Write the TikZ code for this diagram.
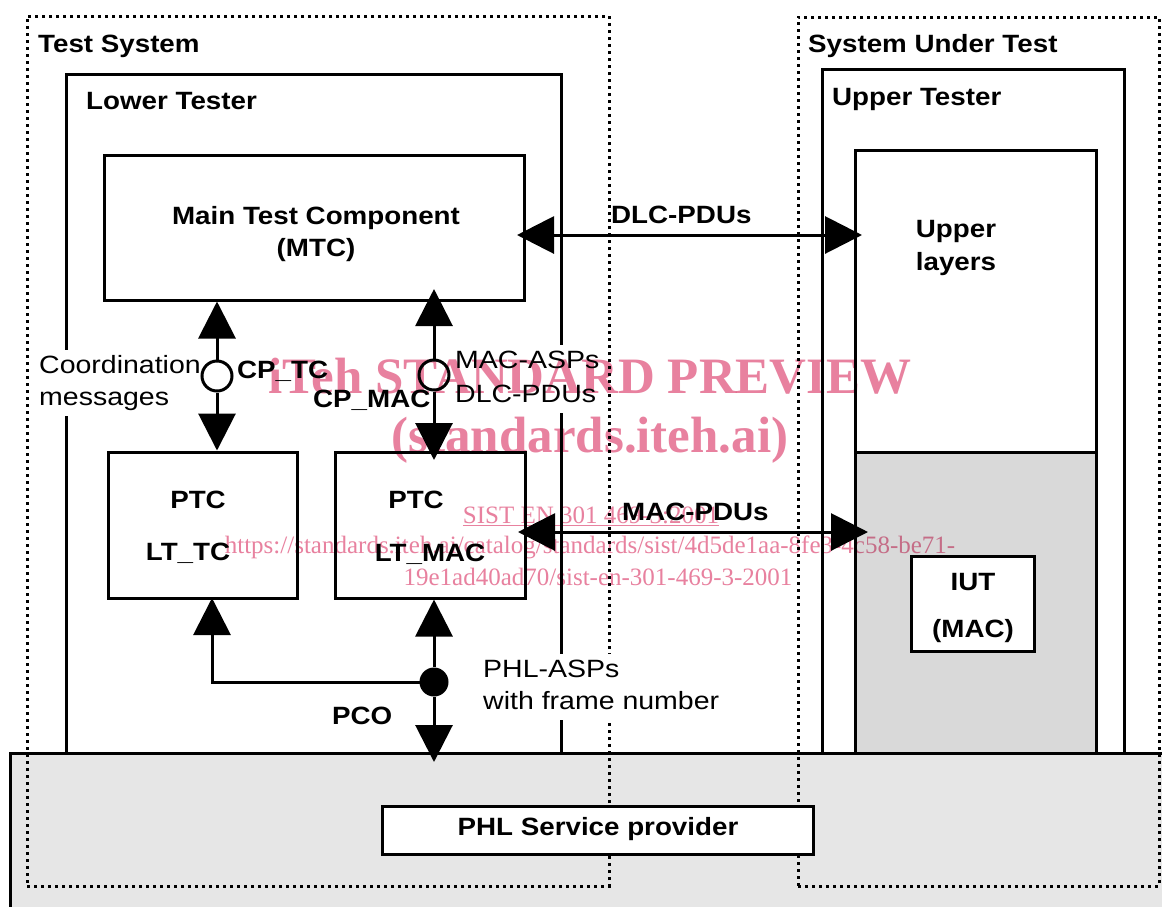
\documentclass[tikz,border=0pt]{standalone}
\usepackage{fontspec}
\usepackage{graphicx}
\setmainfont{Liberation Sans}
\newfontfamily\wmfont{Liberation Serif}
\usetikzlibrary{arrows.meta}
\definecolor{phlgray}{HTML}{E6E6E6}
\definecolor{macgray}{HTML}{D9D9D9}
\definecolor{wmpink}{HTML}{E8819F}
\newcommand{\sx}[1]{\scalebox{1.11}[1]{#1}}
\newcommand{\sxr}[1]{\scalebox{1.14}[1]{#1}}
\begin{document}
\begin{tikzpicture}[x=1pt,y=-1pt,
  box/.style={draw, line width=3pt, inner sep=0pt, rectangle},
  dotbox/.style={draw, line width=3pt, dash pattern=on 3pt off 4pt, inner sep=0pt, rectangle},
  tip/.style={-{Triangle[length=37pt,width=37pt]}},
  arr/.style={line width=3pt, tip},
  darr/.style={line width=3pt, {Triangle[length=37pt,width=37pt]}-{Triangle[length=37pt,width=37pt]}},
  bl/.style={font=\fontsize{25}{30}\selectfont\bfseries, inner sep=0pt},
  rl/.style={font=\fontsize{25}{30}\selectfont, inner sep=0pt},
  wl/.style={rl, fill=white, inner xsep=2pt, inner ysep=2pt, text height=21pt, text depth=9pt, anchor=base west},
  wmbig/.style={font=\wmfont\fontsize{51}{51}\selectfont\bfseries, text=wmpink, inner sep=0pt, anchor=base},
  wmsmall/.style={font=\wmfont\fontsize{25}{25}\selectfont, text=wmpink, inner sep=0pt, anchor=base}
]
\useasboundingbox (0,0) rectangle (1162,906);
\fill[white] (0,0) rectangle (1162,906);

% PHL service area
\node[box, fill=phlgray, minimum width=1170pt, minimum height=172pt] (phl) at (595,839) {};

% dotted system boxes
\node[dotbox, minimum width=582pt, minimum height=870pt] (ts) at (318,451) {};
\node[dotbox, minimum width=361pt, minimum height=869pt] (sut) at (978.5,451.5) {};

% Lower tester
\node[box, minimum width=495pt, minimum height=679pt] (lt) at (313.5,413.5) {};
\node[box, minimum width=420pt, minimum height=145pt] (mtc) at (314,227.5) {};
\node[box, minimum width=189pt, minimum height=146pt] (ltc) at (202.5,525) {};
\node[box, minimum width=190pt, minimum height=146pt] (lmac) at (430,525) {};

% Upper tester
\node[box, fill=white, minimum width=302pt, minimum height=684pt] (ut) at (973,411) {};
\node[box, fill=white, minimum width=241pt, minimum height=302pt] (ul) at (975.5,301) {};
\node[box, fill=macgray, minimum width=241pt, minimum height=301pt] (macreg) at (975.5,602.5) {};
\node[box, fill=white, minimum width=123pt, minimum height=95pt] (iut) at (972.5,603.5) {};

% PHL service provider
\node[box, fill=white, minimum width=431pt, minimum height=48pt] (sp) at (597.5,830) {};

% labels with white background (they break the box edges)
\node[wl] (tCo1) at (37,373) {\sxr{Coordination}};
\node[wl] (tCo2) at (37,405) {\sxr{messages}};
\node[wl] (tMA1) at (453,368) {\sxr{MAC-ASPs}};
\node[wl] (tMA2) at (453,402) {\sxr{DLC-PDUs}};
\node[wl] (tPH1) at (481,677) {\sxr{PHL-ASPs}};
\node[wl] (tPH2) at (481,709) {\sxr{with frame number}};

% coordinates for arrow ends
\coordinate (cpmacTop) at (434,289);
\coordinate (cpmacBot) at (434,460);
\coordinate (dlcL) at (517,235);
\coordinate (dlcR) at (862,235);
\coordinate (macL) at (518,532);
\coordinate (macR) at (868,532);
\coordinate (pcoBot) at (434,762);
\coordinate (brTop) at (212,598);

% points of control
\node[circle, draw, fill=white, line width=3pt, minimum size=30pt, inner sep=0pt] (cptc) at (217,376) {};
\node[circle, draw, fill=white, line width=3pt, minimum size=30pt, inner sep=0pt] (cpmac) at (434,375) {};
\node[circle, fill=black, minimum size=29pt, inner sep=0pt] (pco) at (434,682) {};

\draw[arr] (cptc) -- (cptc |- mtc.south);
\draw[arr] (cptc) -- (cptc |- ltc.north);
\draw[arr] (cpmac) -- (cpmacTop);
\draw[arr] (cpmac) -- (cpmacBot);
\draw[darr] (dlcL) -- (dlcR);
\draw[darr] (macL) -- (macR);
\draw[arr] (pco) -- (pco |- lmac.south);
\draw[arr] (pco) -- (pcoBot);
\draw[arr] (pco.center) -| (brTop);

% texts
\node[bl, anchor=base west] (tTS) at (38,52) {\sx{Test System}};
\node[bl, anchor=base west] (tLT) at (86,109) {\sx{Lower Tester}};
\node[bl, anchor=base west] (tSUT) at (808,52) {\sx{System Under Test}};
\node[bl, anchor=base west] (tUT) at (832,105) {\sx{Upper Tester}};
\node[bl, anchor=base] (tMTC1) at (316,224) {\sx{Main Test Component}};
\node[bl, anchor=base] (tMTC2) at (316,256) {\sx{(MTC)}};
\node[bl, anchor=base] (tUL1) at (956,237) {\sx{Upper}};
\node[bl, anchor=base] (tUL2) at (956,270) {\sx{layers}};
\node[bl, anchor=base west] (tDLC) at (611,223) {\sx{DLC-PDUs}};
\node[bl, anchor=base west] (tMAC) at (622,520) {\sx{MAC-PDUs}};
\node[bl, anchor=base] (tPTC1) at (198,508) {\sx{PTC}};
\node[bl, anchor=base] (tLTTC) at (188,560) {\sx{LT\_TC}};
\node[bl, anchor=base] (tPTC2) at (416,508) {\sx{PTC}};
\node[bl, anchor=base] (tLTMAC) at (430,561) {\sx{LT\_MAC}};
\node[bl, anchor=base west] (tCPTC) at (237,378) {\sx{CP\_TC}};
\node[bl, anchor=base west] (tCPMAC) at (313,407) {\sx{CP\_MAC}};
\node[bl, anchor=base west] (tPCO) at (332,724) {\sx{PCO}};
\node[bl, anchor=base] (tSP) at (598,835) {\sx{PHL Service provider}};
\node[bl, anchor=base] (tIUT1) at (973,590) {\sx{IUT}};
\node[bl, anchor=base] (tIUT2) at (973,637) {\sx{(MAC)}};

% watermark
\begin{scope}[blend mode=multiply]
\node[wmbig] (wm1) at (590,393) {iTeh STANDARD PREVIEW};
\node[wmbig] (wm2) at (590,452) {(standards.iteh.ai)};
\node[wmsmall] (wm3) at (591,523) {\underline{SIST EN 301 469-3:2001}};
\node[wmsmall] (wm4) at (590,553) {https://standards.iteh.ai/catalog/standards/sist/4d5de1aa-8fe3-4c58-be71-};
\node[wmsmall] (wm5) at (598,585) {19e1ad40ad70/sist-en-301-469-3-2001};
\end{scope}
\end{tikzpicture}
\end{document}
